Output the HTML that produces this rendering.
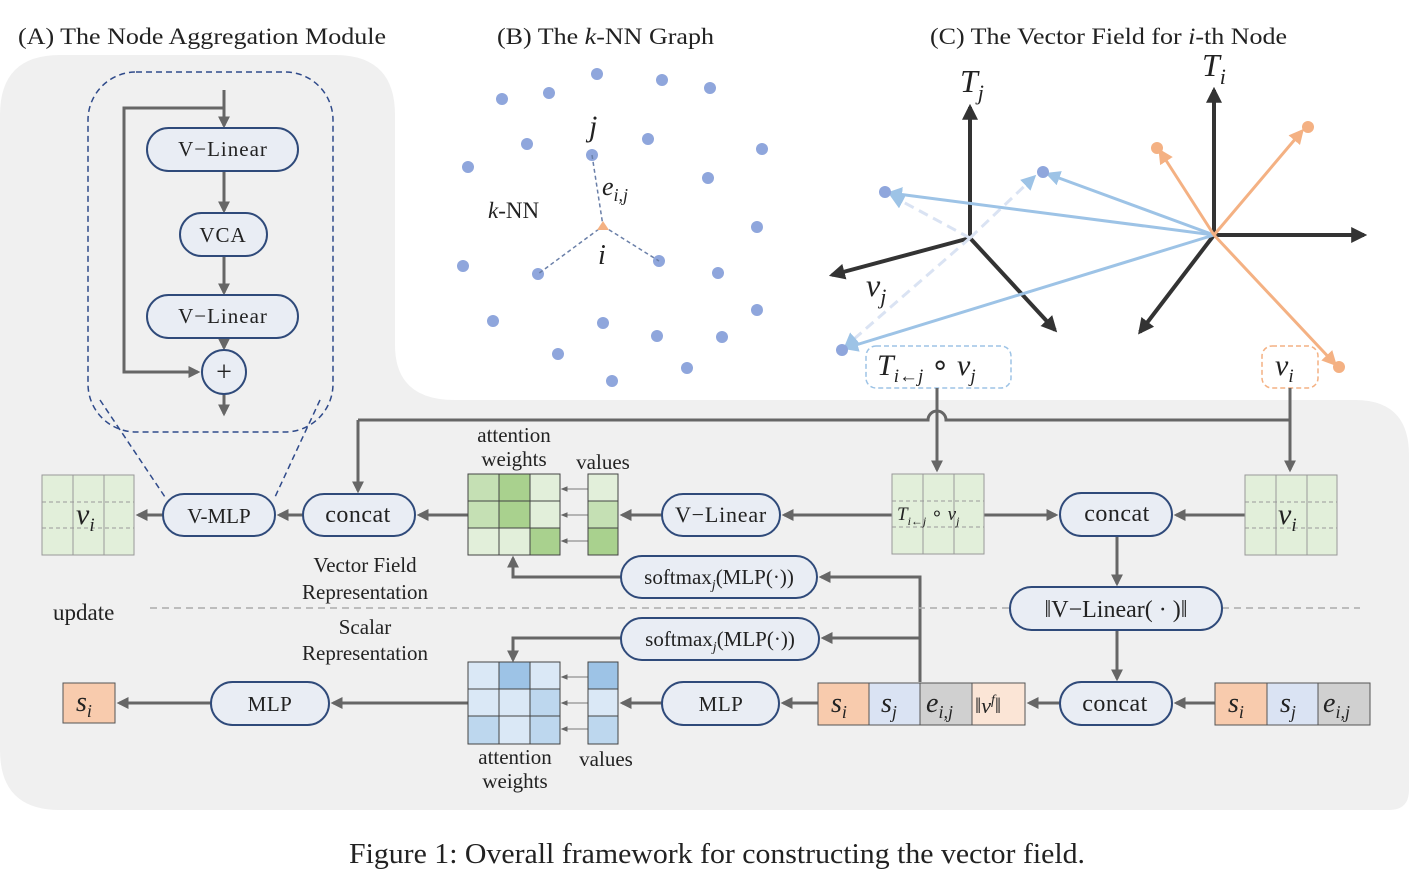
<!DOCTYPE html>
<html><head><meta charset="utf-8"><style>
body{margin:0;background:#fff}
svg text{font-family:"Liberation Serif",serif;fill:#222}
</style></head><body>
<svg width="1409" height="888" viewBox="0 0 1409 888" xmlns="http://www.w3.org/2000/svg">
<defs>
<marker id="ah" viewBox="0 0 10 10" refX="8" refY="5" markerWidth="4" markerHeight="4" orient="auto"><path d="M0,0L10,5L0,10z" fill="#666"/></marker>
<marker id="as" viewBox="0 0 10 10" refX="8" refY="5" markerWidth="7" markerHeight="7" orient="auto" markerUnits="userSpaceOnUse"><path d="M0,1L10,5L0,9z" fill="#666"/></marker>
<marker id="ak" viewBox="0 0 10 10" refX="8" refY="5" markerWidth="4" markerHeight="4" orient="auto"><path d="M0,0L10,5L0,10z" fill="#333"/></marker>
<marker id="ab" viewBox="0 0 10 10" refX="8" refY="5" markerWidth="5" markerHeight="5" orient="auto"><path d="M0,0L10,5L0,10z" fill="#9dc3e6"/></marker>
<marker id="ao" viewBox="0 0 10 10" refX="8" refY="5" markerWidth="5" markerHeight="5" orient="auto"><path d="M0,0L10,5L0,10z" fill="#f4b183"/></marker>
</defs>
<path d="M0,115 Q0,55 60,55 L335,55 Q395,55 395,115 L395,345 Q395,400 455,400 L1355,400 Q1409,400 1409,455 L1409,790 Q1409,810 1389,810 L60,810 Q0,810 0,750 Z" fill="#f0f0f0"/>
<text x="18" y="44" font-size="23" textLength="368" lengthAdjust="spacingAndGlyphs">(A) The Node Aggregation Module</text>
<text x="497" y="44" font-size="23" textLength="217" lengthAdjust="spacingAndGlyphs">(B) The <tspan font-style="italic">k</tspan>-NN Graph</text>
<text x="930" y="44" font-size="23" textLength="357" lengthAdjust="spacingAndGlyphs">(C) The Vector Field for <tspan font-style="italic">i</tspan>-th Node</text>
<!-- A -->
<rect x="88" y="72" width="245" height="360" rx="48" fill="none" stroke="#2f4a8a" stroke-width="1.5" stroke-dasharray="6,4"/>
<g stroke="#666" stroke-width="3" fill="none">
<path d="M224,90 V126" marker-end="url(#ah)"/>
<path d="M224,108 H124 V372 H198" marker-end="url(#ah)"/>
<path d="M224,171 V211" marker-end="url(#ah)"/>
<path d="M224,256 V293" marker-end="url(#ah)"/>
<path d="M224,338 V348" marker-end="url(#ah)"/>
<path d="M224,394 V414" marker-end="url(#ah)"/>
</g>
<g stroke="#2f4a7a" stroke-width="2" fill="#e9edf4">
<rect x="147" y="128" width="151" height="43" rx="21.5"/>
<rect x="180" y="213" width="87" height="43" rx="21.5"/>
<rect x="147" y="295" width="151" height="43" rx="21.5"/>
<circle cx="224" cy="372" r="22"/>
</g>
<g font-size="21" text-anchor="middle" letter-spacing="1">
<text x="223" y="156">V−Linear</text>
<text x="223" y="242">VCA</text>
<text x="223" y="323">V−Linear</text>
</g>
<text x="224" y="381" font-size="28" text-anchor="middle">+</text>
<path d="M100,400 L165,497 M320,400 L275,497" stroke="#2f4a8a" stroke-width="1.5" stroke-dasharray="6,4"/>
<!-- B -->
<g fill="#8fa6dc">
<circle cx="597" cy="74" r="6"/><circle cx="662" cy="80" r="6"/><circle cx="710" cy="88" r="6"/><circle cx="549" cy="93" r="6"/><circle cx="502" cy="99" r="6"/><circle cx="648" cy="139" r="6"/><circle cx="527" cy="144" r="6"/><circle cx="762" cy="149" r="6"/><circle cx="592" cy="155" r="6"/><circle cx="468" cy="167" r="6"/><circle cx="708" cy="178" r="6"/><circle cx="757" cy="227" r="6"/><circle cx="463" cy="266" r="6"/><circle cx="538" cy="274" r="6"/><circle cx="659" cy="261" r="6"/><circle cx="718" cy="273" r="6"/><circle cx="757" cy="310" r="6"/><circle cx="493" cy="321" r="6"/><circle cx="603" cy="323" r="6"/><circle cx="657" cy="336" r="6"/><circle cx="722" cy="337" r="6"/><circle cx="558" cy="354" r="6"/><circle cx="687" cy="368" r="6"/><circle cx="612" cy="381" r="6"/>
</g>
<path d="M592,155 L603,226 L538,274 M603,226 L659,261" stroke="#6a7fa8" stroke-width="1.5" stroke-dasharray="4,3" fill="none"/>
<path d="M603,221 L609,230 L597,230Z" fill="#f4b183"/>
<text x="589" y="136" font-size="30" font-style="italic">j</text>
<text x="602" y="195" font-size="26" font-style="italic">e<tspan font-size="18" dy="6">i,j</tspan></text>
<text x="598" y="264" font-size="28" font-style="italic">i</text>
<text x="488" y="218" font-size="23"><tspan font-style="italic">k</tspan>-NN</text>
<!-- C -->
<g stroke="#333" stroke-width="4" fill="none">
<path d="M970,238 V107" marker-end="url(#ak)"/>
<path d="M970,238 L832,275" marker-end="url(#ak)"/>
<path d="M970,238 L1055,330" marker-end="url(#ak)"/>
<path d="M1214,235 V90" marker-end="url(#ak)"/>
<path d="M1214,235 H1364" marker-end="url(#ak)"/>
<path d="M1214,235 L1140,332" marker-end="url(#ak)"/>
</g>
<g stroke="#dae3f3" stroke-width="3" stroke-dasharray="10,6" fill="none">
<path d="M970,238 L892,196" marker-end="url(#ab)"/><path d="M970,238 L1034,177" marker-end="url(#ab)"/><path d="M970,238 L846,346" marker-end="url(#ab)"/>
</g>
<g stroke="#9dc3e6" stroke-width="3" fill="none">
<path d="M1214,235 L890,193" marker-end="url(#ab)"/><path d="M1214,235 L1048,174" marker-end="url(#ab)"/><path d="M1214,235 L846,348" marker-end="url(#ab)"/>
</g>
<g stroke="#f4b183" stroke-width="3" fill="none">
<path d="M1214,235 L1302,131" marker-end="url(#ao)"/><path d="M1214,235 L1160,151" marker-end="url(#ao)"/><path d="M1214,235 L1335,364" marker-end="url(#ao)"/>
</g>
<g fill="#8fa6dc"><circle cx="885" cy="192" r="6"/><circle cx="1043" cy="172" r="6"/><circle cx="842" cy="350" r="6"/></g>
<g fill="#f4b183"><circle cx="1308" cy="127" r="6"/><circle cx="1157" cy="148" r="6"/><circle cx="1339" cy="367" r="6"/></g>
<text x="960" y="92" font-size="32" font-style="italic">T<tspan font-size="22" dy="8">j</tspan></text>
<text x="1202" y="76" font-size="32" font-style="italic">T<tspan font-size="22" dy="8">i</tspan></text>
<text x="866" y="296" font-size="32" font-style="italic">v<tspan font-size="22" dy="8">j</tspan></text>
<rect x="866" y="346" width="145" height="42" rx="10" fill="#fff" stroke="#9dc3e6" stroke-width="1.5" stroke-dasharray="5,3"/>
<text x="877" y="375" font-size="30" font-style="italic">T<tspan font-size="19" dy="7">i←j</tspan><tspan dy="-7" font-style="normal"> ∘ </tspan>v<tspan font-size="19" dy="7">j</tspan></text>
<rect x="1262" y="346" width="56" height="42" rx="10" fill="#fff" stroke="#f4b183" stroke-width="1.5" stroke-dasharray="5,3"/>
<text x="1275" y="375" font-size="30" font-style="italic">v<tspan font-size="19" dy="7">i</tspan></text>
<!-- bottom connectors -->
<g stroke="#666" stroke-width="3" fill="none">
<path d="M358,420 H928 A9,9 0 0 1 946,420 H1290"/>
<path d="M358,420 V491" marker-end="url(#ah)"/>
<path d="M937,388 V470" marker-end="url(#ah)"/>
<path d="M1290,388 V470" marker-end="url(#ah)"/>
<path d="M163,515 H138" marker-end="url(#ah)"/>
<path d="M303,515 H279" marker-end="url(#ah)"/>
<path d="M468,515 H419" marker-end="url(#ah)"/>
<path d="M662,515 H622" marker-end="url(#ah)"/>
<path d="M892,515 H784" marker-end="url(#ah)"/>
<path d="M984,515 H1056" marker-end="url(#ah)"/>
<path d="M1245,515 H1176" marker-end="url(#ah)"/>
<path d="M1117,536 V584" marker-end="url(#ah)"/>
<path d="M1117,630 V679" marker-end="url(#ah)"/>
<path d="M920,682 V577 H821" marker-end="url(#ah)"/>
<path d="M920,638 H823" marker-end="url(#ah)"/>
<path d="M621,577 H513 V558" marker-end="url(#ah)"/>
<path d="M621,638 H513 V660" marker-end="url(#ah)"/>
<path d="M211,703 H119" marker-end="url(#ah)"/>
<path d="M468,703 H333" marker-end="url(#ah)"/>
<path d="M662,703 H622" marker-end="url(#ah)"/>
<path d="M818,703 H783" marker-end="url(#ah)"/>
<path d="M1060,703 H1029" marker-end="url(#ah)"/>
<path d="M1215,703 H1176" marker-end="url(#ah)"/>
</g>
<g stroke="#777" stroke-width="1" fill="none">
<path d="M588,489 H562" marker-end="url(#as)"/><path d="M588,515 H562" marker-end="url(#as)"/><path d="M588,541 H562" marker-end="url(#as)"/>
<path d="M588,677 H562" marker-end="url(#as)"/><path d="M588,703 H562" marker-end="url(#as)"/><path d="M588,729 H562" marker-end="url(#as)"/>
</g>
<path d="M150,608 H1010 M1222,608 H1360" stroke="#aaa" stroke-width="1.5" stroke-dasharray="7,5"/>
<!-- grids -->
<g stroke="#999" stroke-width="1">
<rect x="42" y="475" width="92" height="80" fill="#e2efda"/>
<path d="M73,475 V555 M104,475 V555"/>
<path d="M42,502 H134 M42,528 H134" stroke-dasharray="4,3"/>
<rect x="1245" y="475" width="92" height="80" fill="#e2efda"/>
<path d="M1276,475 V555 M1307,475 V555"/>
<path d="M1245,502 H1337 M1245,528 H1337" stroke-dasharray="4,3"/>
<rect x="892" y="474" width="92" height="80" fill="#e2efda"/>
<path d="M923,474 V554 M954,474 V554"/>
<path d="M892,501 H984 M892,527 H984" stroke-dasharray="4,3"/>
</g>
<g stroke="#444" stroke-width="1">
<rect x="468" y="474" width="31" height="27" fill="#c5e0b4"/><rect x="499" y="474" width="31" height="27" fill="#a9d18e"/><rect x="530" y="474" width="30" height="27" fill="#e2efda"/>
<rect x="468" y="501" width="31" height="27" fill="#c5e0b4"/><rect x="499" y="501" width="31" height="27" fill="#a9d18e"/><rect x="530" y="501" width="30" height="27" fill="#e2efda"/>
<rect x="468" y="528" width="31" height="27" fill="#e2efda"/><rect x="499" y="528" width="31" height="27" fill="#e2efda"/><rect x="530" y="528" width="30" height="27" fill="#a9d18e"/>
<rect x="588" y="474" width="30" height="27" fill="#e2efda"/><rect x="588" y="501" width="30" height="27" fill="#c5e0b4"/><rect x="588" y="528" width="30" height="27" fill="#a9d18e"/>
<rect x="468" y="662" width="31" height="27" fill="#dae8f6"/><rect x="499" y="662" width="31" height="27" fill="#9dc3e6"/><rect x="530" y="662" width="30" height="27" fill="#dae8f6"/>
<rect x="468" y="689" width="31" height="27" fill="#dae8f6"/><rect x="499" y="689" width="31" height="27" fill="#dae8f6"/><rect x="530" y="689" width="30" height="27" fill="#bdd7ee"/>
<rect x="468" y="716" width="31" height="28" fill="#bdd7ee"/><rect x="499" y="716" width="31" height="28" fill="#dae8f6"/><rect x="530" y="716" width="30" height="28" fill="#bdd7ee"/>
<rect x="588" y="662" width="30" height="27" fill="#9dc3e6"/><rect x="588" y="689" width="30" height="27" fill="#dae8f6"/><rect x="588" y="716" width="30" height="28" fill="#bdd7ee"/>
</g>
<text x="76" y="524" font-size="30" font-style="italic">v<tspan font-size="19" dy="7">i</tspan></text>
<text x="1278" y="524" font-size="30" font-style="italic">v<tspan font-size="19" dy="7">i</tspan></text>
<text x="897" y="520" font-size="19" font-style="italic">T<tspan font-size="12" dy="5">i←j</tspan><tspan dy="-5" font-style="normal"> ∘ </tspan>v<tspan font-size="12" dy="5">j</tspan></text>
<!-- pills -->
<g stroke="#2f4a7a" stroke-width="2" fill="#e9edf4">
<rect x="163" y="494" width="112" height="42" rx="21"/>
<rect x="303" y="494" width="112" height="42" rx="21"/>
<rect x="662" y="494" width="118" height="42" rx="21"/>
<rect x="1060" y="493" width="112" height="43" rx="21.5"/>
<rect x="621" y="556" width="196" height="42" rx="21"/>
<rect x="1010" y="587" width="212" height="43" rx="21.5"/>
<rect x="621" y="618" width="198" height="42" rx="21"/>
<rect x="211" y="682" width="118" height="43" rx="21.5"/>
<rect x="662" y="682" width="117" height="43" rx="21.5"/>
<rect x="1060" y="682" width="112" height="43" rx="21.5"/>
</g>
<g text-anchor="middle">
<text x="219" y="523" font-size="21">V-MLP</text>
<text x="358" y="522" font-size="24" letter-spacing="0.5">concat</text>
<text x="721" y="522" font-size="22" letter-spacing="0.8">V−Linear</text>
<text x="1117" y="521" font-size="24" letter-spacing="0.5">concat</text>
<text x="719" y="584" font-size="21">softmax<tspan font-size="14" font-style="italic" dy="5">j</tspan><tspan dy="-5">(MLP(·))</tspan></text>
<text x="1116" y="617" font-size="24">‖V−Linear( · )‖</text>
<text x="720" y="646" font-size="21">softmax<tspan font-size="14" font-style="italic" dy="5">j</tspan><tspan dy="-5">(MLP(·))</tspan></text>
<text x="270" y="711" font-size="21" letter-spacing="0.5">MLP</text>
<text x="721" y="711" font-size="21" letter-spacing="0.5">MLP</text>
<text x="1115" y="711" font-size="24" letter-spacing="0.5">concat</text>
</g>
<!-- feature boxes -->
<g stroke="#555" stroke-width="1">
<rect x="63" y="683" width="52" height="40" fill="#f8cbad"/>
<rect x="818" y="683" width="51" height="42" fill="#f8cbad"/><rect x="869" y="683" width="51" height="42" fill="#dae3f3"/><rect x="920" y="683" width="52" height="42" fill="#d0d0d0"/><rect x="972" y="683" width="53" height="42" fill="#fbe5d6"/>
<rect x="1215" y="683" width="52" height="42" fill="#f8cbad"/><rect x="1267" y="683" width="51" height="42" fill="#dae3f3"/><rect x="1318" y="683" width="52" height="42" fill="#d0d0d0"/>
</g>
<g font-size="28" font-style="italic">
<text x="76" y="711">s<tspan font-size="18" dy="6">i</tspan></text>
<text x="831" y="712">s<tspan font-size="18" dy="6">i</tspan></text>
<text x="881" y="712">s<tspan font-size="18" dy="6">j</tspan></text>
<text x="926" y="712">e<tspan font-size="18" dy="6">i,j</tspan></text>
<text x="1228" y="712">s<tspan font-size="18" dy="6">i</tspan></text>
<text x="1280" y="712">s<tspan font-size="18" dy="6">j</tspan></text>
<text x="1323" y="712">e<tspan font-size="18" dy="6">i,j</tspan></text>
</g>
<text x="975" y="713" font-size="22">‖<tspan font-style="italic">v<tspan font-size="14" dy="-9">f</tspan></tspan><tspan dy="9">‖</tspan></text>
<!-- labels -->
<g font-size="21" text-anchor="middle">
<text x="514" y="442">attention</text><text x="514" y="466">weights</text>
<text x="603" y="469">values</text>
<text x="365" y="572">Vector Field</text><text x="365" y="599">Representation</text>
<text x="365" y="634">Scalar</text><text x="365" y="660">Representation</text>
<text x="515" y="764">attention</text><text x="515" y="788">weights</text>
<text x="606" y="766">values</text>
</g>
<text x="53" y="620" font-size="23">update</text>
<text x="349" y="863" font-size="28" textLength="736" lengthAdjust="spacingAndGlyphs">Figure 1: Overall framework for constructing the vector field.</text>
</svg>
</body></html>
